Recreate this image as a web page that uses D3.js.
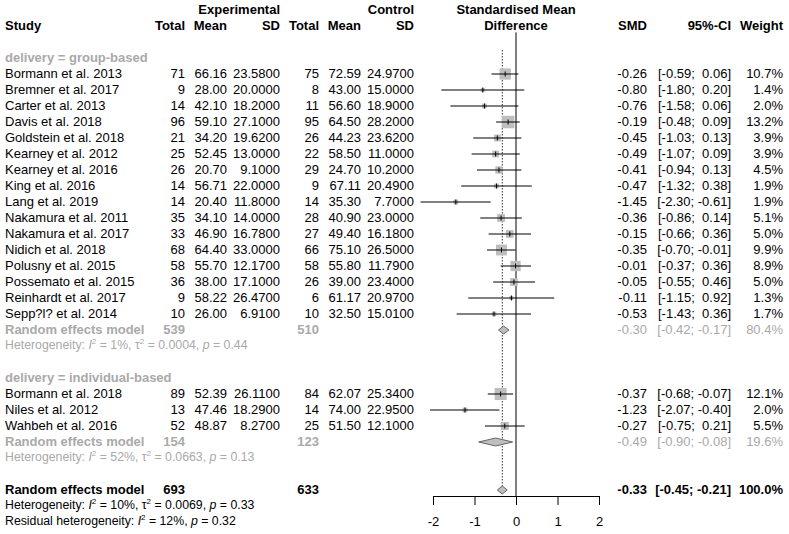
<!DOCTYPE html>
<html>
<head>
<meta charset="utf-8">
<script src="https://cdn.jsdelivr.net/npm/d3@7"></script>
<style>
  body { margin: 0; background: #fff; }
  svg text { font-family: "Liberation Sans", Arial, sans-serif; font-size: 13px; white-space: pre; }
</style>
</head>
<body>
<svg id="forest" width="789" height="534"></svg>
<script>
// STUDY DATA
var studies = ["Bormann et al. 2013", "Bremner et al. 2017", "Carter et al. 2013", "Davis et al. 2018",
  "Goldstein et al. 2018", "Kearney et al. 2012", "Kearney et al. 2016", "King et al. 2016", "Lang et al. 2019",
  "Nakamura et al. 2011", "Nakamura et al. 2017", "Nidich et al. 2018", "Polusny et al. 2015",
  "Possemato et al. 2015", "Reinhardt et al. 2017", "Sepp?l? et al. 2014",
  "Bormann et al. 2018", "Niles et al. 2012", "Wahbeh et al. 2016"];
var delivery = ["group-based", "group-based", "group-based", "group-based", "group-based", "group-based",
  "group-based", "group-based", "group-based", "group-based", "group-based", "group-based", "group-based",
  "group-based", "group-based", "group-based", "individual-based", "individual-based", "individual-based"];
var totalE = [71, 9, 14, 96, 21, 25, 26, 14, 14, 35, 33, 68, 58, 36, 9, 10, 89, 13, 52];
var meanE = [66.16, 28.00, 42.10, 59.10, 34.20, 52.45, 20.70, 56.71, 20.40, 34.10, 46.90, 64.40, 55.70, 38.00, 58.22, 26.00, 52.39, 47.46, 48.87];
var sdE = [23.58, 20.00, 18.20, 27.10, 19.62, 13.00, 9.10, 22.00, 11.80, 14.00, 16.78, 33.00, 12.17, 17.10, 26.47, 6.91, 26.11, 18.29, 8.27];
var totalC = [75, 8, 11, 95, 26, 22, 29, 9, 14, 28, 27, 66, 58, 26, 6, 10, 84, 14, 25];
var meanC = [72.59, 43.00, 56.60, 64.50, 44.23, 58.50, 24.70, 67.11, 35.30, 40.90, 49.40, 75.10, 55.80, 39.00, 61.17, 32.50, 62.07, 74.00, 51.50];
var sdC = [24.97, 15.00, 18.90, 28.20, 23.62, 11.00, 10.20, 20.49, 7.70, 23.00, 16.18, 26.50, 11.79, 23.40, 20.97, 15.01, 25.34, 22.95, 12.10];
var smd = [-0.26, -0.80, -0.76, -0.19, -0.45, -0.49, -0.41, -0.47, -1.45, -0.36, -0.15, -0.35, -0.01, -0.05, -0.11, -0.53, -0.37, -1.23, -0.27];
var ciLower = [-0.59, -1.80, -1.58, -0.48, -1.03, -1.07, -0.94, -1.32, -2.30, -0.86, -0.66, -0.70, -0.37, -0.55, -1.15, -1.43, -0.68, -2.07, -0.75];
var ciUpper = [0.06, 0.20, 0.06, 0.09, 0.13, 0.09, 0.13, 0.38, -0.61, 0.14, 0.36, -0.01, 0.36, 0.46, 0.92, 0.36, -0.07, -0.40, 0.21];
var weight = [10.7, 1.4, 2.0, 13.2, 3.9, 3.9, 4.5, 1.9, 1.9, 5.1, 5.0, 9.9, 8.9, 5.0, 1.3, 1.7, 12.1, 2.0, 5.5];

// SUBGROUP SUMMARIES
var groups = ["group-based", "individual-based"];
var groupTotalE = [539, 154];
var groupTotalC = [510, 123];
var groupSmd = [-0.30, -0.49];
var groupLower = [-0.42, -0.90];
var groupUpper = [-0.17, -0.08];
var groupWeight = [80.4, 19.6];
var groupI2 = ["1%", "52%"];
var groupTau2 = ["0.0004", "0.0663"];
var groupP = ["0.44", "0.13"];

// OVERALL
var overallTotalE = 693, overallTotalC = 633;
var overallSmd = -0.33, overallLower = -0.45, overallUpper = -0.21, overallWeight = 100.0;
var overallI2 = "10%", overallTau2 = "0.0069", overallP = "0.33";
var residualI2 = "12%", residualP = "0.32";

var axisTicks = [-2, -1, 0, 1, 2];

// LAYOUT
var svg = d3.select("#forest");
var darkgray = "#a9a9a9";
var col = {study: 5, totE: 185, meanE: 227, sdE: 280, totC: 319, meanC: 361, sdC: 414, smd: 647, ci: 731, w: 783};

var x = d3.scaleLinear().domain([-2, 2]).range([433, 599]);
var row = d3.scaleLinear().domain([0, 1]).range([10, 26]);
var side = d3.scaleSqrt().domain([0, 13.2]).range([0, 12.5]);

var f2 = v => v.toFixed(2);
var pad = v => (v < 0 ? "" : " ") + f2(v);
var ci = (lo, hi) => "[" + pad(lo) + "; " + pad(hi) + "]";
var pct = v => v.toFixed(1) + "%";

function label(r, xpos, s, anchor, color, bold, size) {
  return svg.append("text")
      .attr("x", xpos)
      .attr("y", row(r))
      .attr("dy", "0.28em")
      .attr("text-anchor", anchor || "end")
      .style("fill", color || "#000")
      .style("font-weight", bold ? "bold" : "normal")
      .style("font-size", (size || 13) + "px")
      .text(s);
}

// heterogeneity line with italic symbols and superscripts
function hetLine(r, color, prefix, i2, tau2, p) {
  var t = svg.append("text")
      .attr("x", col.study)
      .attr("y", row(r))
      .attr("dy", "0.28em")
      .style("fill", color)
      .style("font-size", "12.3px");
  t.append("tspan").text(prefix);
  t.append("tspan").style("font-style", "italic").text("I");
  t.append("tspan").attr("dy", -5).style("font-size", "8px").text("2");
  t.append("tspan").attr("dy", 5).text(" = " + i2 + ", ");
  if (tau2 != null) {
    t.append("tspan").text("\u03c4");
    t.append("tspan").attr("dy", -5).style("font-size", "8px").text("2");
    t.append("tspan").attr("dy", 5).text(" = " + tau2 + ", ");
  }
  t.append("tspan").style("font-style", "italic").text("p");
  t.append("tspan").text(" = " + p);
}

function diamond(r, est, lo, hi) {
  var yc = row(r), h = 4;
  svg.append("path")
      .attr("d", "M" + x(lo) + "," + yc + "L" + x(est) + "," + (yc - h) + "L" + x(hi) + "," + yc + "L" + x(est) + "," + (yc + h) + "Z")
      .style("fill", "#bebebe")
      .style("stroke", "#666")
      .style("stroke-width", 1);
}

// HEADERS
label(0, col.sdE, "Experimental", "end", "#000", true);
label(0, col.sdC, "Control", "end", "#000", true);
label(0, x(0), "Standardised Mean", "middle", "#000", true);
label(1, col.study, "Study", "start", "#000", true);
[["Total", col.totE], ["Mean", col.meanE], ["SD", col.sdE], ["Total", col.totC], ["Mean", col.meanC],
 ["SD", col.sdC], ["SMD", col.smd], ["95%-CI", col.ci], ["Weight", col.w]].forEach(function(h) {
  label(1, h[1], h[0], "end", "#000", true);
});
label(1, x(0), "Difference", "middle", "#000", true);

// REFERENCE LINES
svg.append("line")
    .attr("x1", x(0)).attr("x2", x(0))
    .attr("y1", row(1.4)).attr("y2", row(30.375))
    .style("stroke", "#000").style("stroke-width", 1);
svg.append("line")
    .attr("x1", x(overallSmd)).attr("x2", x(overallSmd))
    .attr("y1", row(2.5)).attr("y2", row(30) - 4)
    .style("stroke", "#333").style("stroke-width", 1).style("stroke-dasharray", "1.5,1.5");

// STUDY ROWS BY GROUP
var r = 3;
groups.forEach(function(g, gi) {
  label(r, col.study, "delivery = " + g, "start", darkgray, true);
  r++;
  studies.forEach(function(s, i) {
    if (delivery[i] !== g) return;
    label(r, col.study, s, "start");
    label(r, col.totE, totalE[i]);
    label(r, col.meanE, f2(meanE[i]));
    label(r, col.sdE, sdE[i].toFixed(4));
    label(r, col.totC, totalC[i]);
    label(r, col.meanC, f2(meanC[i]));
    label(r, col.sdC, sdC[i].toFixed(4));
    label(r, col.smd, f2(smd[i]));
    label(r, col.ci, ci(ciLower[i], ciUpper[i]));
    label(r, col.w, pct(weight[i]));

    var yc = row(r), sz = side(weight[i]);
    svg.append("rect")
        .attr("x", x(smd[i]) - sz / 2).attr("y", yc - sz / 2)
        .attr("width", sz).attr("height", sz)
        .style("fill", "#bebebe");
    svg.append("line")
        .attr("x1", x(ciLower[i])).attr("x2", x(ciUpper[i]))
        .attr("y1", yc).attr("y2", yc)
        .style("stroke", "#000").style("stroke-width", 1);
    svg.append("line")
        .attr("x1", x(smd[i])).attr("x2", x(smd[i]))
        .attr("y1", yc - 2.5).attr("y2", yc + 2.5)
        .style("stroke", "#000").style("stroke-width", 1);
    r++;
  });
  label(r, col.study, "Random effects model", "start", darkgray, true);
  label(r, col.totE, groupTotalE[gi], "end", darkgray, true);
  label(r, col.totC, groupTotalC[gi], "end", darkgray, true);
  label(r, col.smd, f2(groupSmd[gi]), "end", darkgray);
  label(r, col.ci, ci(groupLower[gi], groupUpper[gi]), "end", darkgray);
  label(r, col.w, pct(groupWeight[gi]), "end", darkgray);
  diamond(r, groupSmd[gi], groupLower[gi], groupUpper[gi]);
  r++;
  hetLine(r, darkgray, "Heterogeneity: ", groupI2[gi], groupTau2[gi], groupP[gi]);
  r += 2;
});

// OVERALL
label(r, col.study, "Random effects model", "start", "#000", true);
label(r, col.totE, overallTotalE, "end", "#000", true);
label(r, col.totC, overallTotalC, "end", "#000", true);
label(r, col.smd, f2(overallSmd), "end", "#000", true);
label(r, col.ci, ci(overallLower, overallUpper), "end", "#000", true);
label(r, col.w, pct(overallWeight), "end", "#000", true);
diamond(r, overallSmd, overallLower, overallUpper);
hetLine(r + 1, "#000", "Heterogeneity: ", overallI2, overallTau2, overallP);
hetLine(r + 2, "#000", "Residual heterogeneity: ", residualI2, null, residualP);

// AXIS
var axis = svg.append("g")
    .attr("transform", "translate(0," + row(30.375) + ")")
    .call(d3.axisBottom(x).tickValues(axisTicks).tickFormat(d3.format("d")).tickSize(9).tickSizeOuter(0).tickPadding(12));
axis.selectAll("text")
    .style("font-family", "'Liberation Sans', Arial, sans-serif")
    .style("font-size", "13px")
    .style("fill", "#000")
    .text(d => String(d));
axis.selectAll("line, path").style("stroke", "#000");
</script>
</body>
</html>
